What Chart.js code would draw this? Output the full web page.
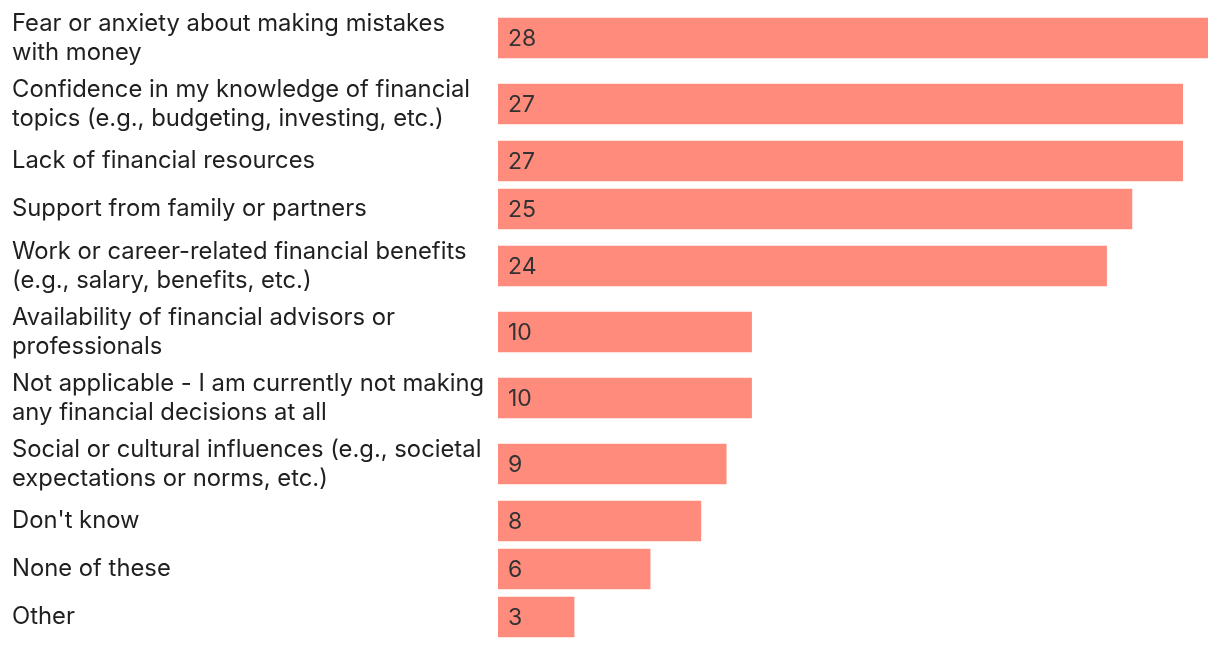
<!DOCTYPE html>
<html>
<head>
<meta charset="utf-8">
<script src="https://cdn.jsdelivr.net/npm/chart.js@4.4.1/dist/chart.umd.min.js"></script>
<style>
  html, body { margin: 0; padding: 0; background: #ffffff; }
  #wrap { width: 1220px; height: 646px; position: relative; }
</style>
</head>
<body>
<div id="wrap"><canvas id="c" width="1220" height="646"></canvas></div>
<script>
// Category labels (wrapped as shown in the reference)
const categories = [
  ["Fear or anxiety about making mistakes", "with money"],
  ["Confidence in my knowledge of financial", "topics (e.g., budgeting, investing, etc.)"],
  ["Lack of financial resources"],
  ["Support from family or partners"],
  ["Work or career-related financial benefits", "(e.g., salary, benefits, etc.)"],
  ["Availability of financial advisors or", "professionals"],
  ["Not applicable - I am currently not making", "any financial decisions at all"],
  ["Social or cultural influences (e.g., societal", "expectations or norms, etc.)"],
  ["Don't know"],
  ["None of these"],
  ["Other"]
];
// Series values (%)
const values = [28, 27, 27, 25, 24, 10, 10, 9, 8, 6, 3];

// Layout: row height depends on how many lines the label uses
const ROW_ONE_LINE = 48;
const ROW_TWO_LINE = 66;
const rowHeights = categories.map(l => l.length > 1 ? ROW_TWO_LINE : ROW_ONE_LINE);
const rowCenters = [];
let acc = 0;
rowHeights.forEach(h => { rowCenters.push(acc + h / 2); acc += h; });
const totalHeight = acc;

const FONT = "Inter, 'Noto Sans', sans-serif";

const valueLabels = {
  id: 'valueLabels',
  afterDatasetsDraw(chart) {
    const ctx = chart.ctx;
    const meta = chart.getDatasetMeta(0);
    ctx.save();
    ctx.font = "400 23px " + FONT;
    ctx.fillStyle = "#333333";
    ctx.textAlign = "left";
    ctx.textBaseline = "middle";
    meta.data.forEach((bar, i) => {
      ctx.fillText(String(values[i]), bar.base + 10, bar.y + 1);
    });
    ctx.restore();
  }
};

new Chart(document.getElementById('c'), {
  type: 'bar',
  data: {
    datasets: [{
      data: values.map((v, i) => ({ x: v, y: rowCenters[i] })),
      backgroundColor: '#FF8B7D',
      borderWidth: 0,
      barThickness: 40
    }]
  },
  options: {
    indexAxis: 'y',
    responsive: false,
    animation: false,
    devicePixelRatio: 1,
    layout: { padding: { left: 12, right: 12, top: 5, bottom: 5 } },
    plugins: { legend: { display: false }, tooltip: { enabled: false } },
    scales: {
      x: {
        type: 'linear',
        min: 0,
        max: 28,
        offset: false,
        display: false
      },
      y: {
        type: 'linear',
        reverse: true,
        min: 0,
        max: totalHeight,
        offset: false,
        grace: 0,
        grid: { display: false, drawTicks: false, offset: false },
        border: { display: false },
        afterBuildTicks(scale) {
          scale.ticks = rowCenters.map(v => ({ value: v }));
        },
        afterFit(scale) {
          scale.width = 486;
          scale.paddingTop = 0;
          scale.paddingBottom = 0;
        },
        ticks: {
          autoSkip: false,
          crossAlign: 'far',
          padding: 0,
          color: '#1f1f1f',
          font: { family: FONT, size: 23.8, lineHeight: 1.22 },
          callback(value) {
            const idx = rowCenters.indexOf(value);
            return idx >= 0 ? categories[idx] : '';
          }
        }
      }
    }
  },
  plugins: [valueLabels]
});
</script>
</body>
</html>
